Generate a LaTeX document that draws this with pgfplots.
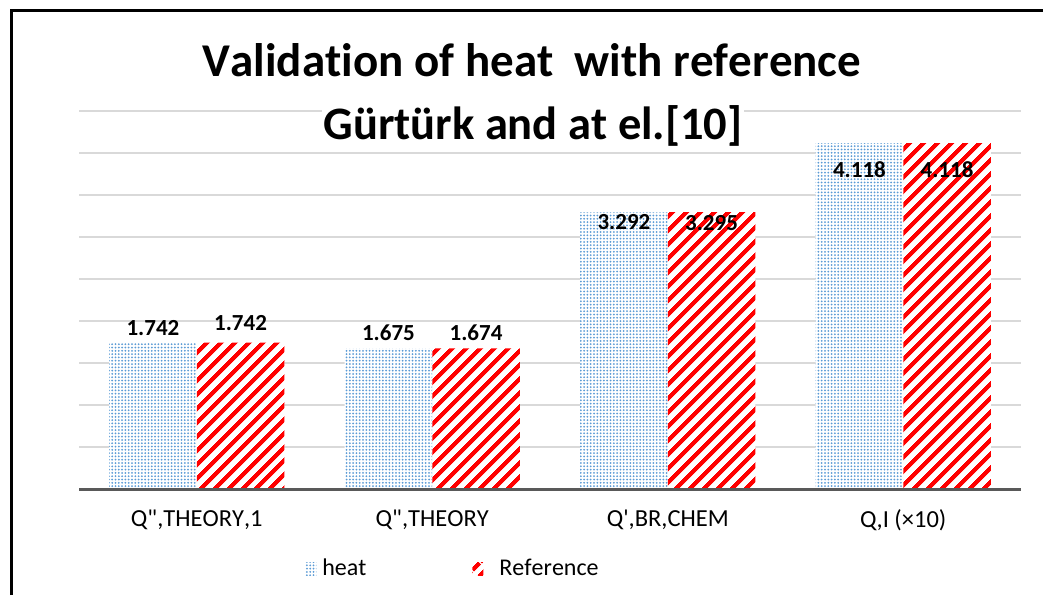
\documentclass[border=0pt]{standalone}
\usepackage{fontspec}
\setmainfont{Carlito}[Ligatures={TeXOff,NoCommon},Kerning=Off]
\usepackage{pgfplots}
\pgfplotsset{compat=1.18}
\usetikzlibrary{patterns.meta}
\definecolor{heatblue}{HTML}{5B9BD5}
\definecolor{refred}{HTML}{FF0000}
\definecolor{gridgray}{HTML}{D9D9D9}
\definecolor{axisgray}{HTML}{595959}
\begin{document}
\begin{tikzpicture}[x=1pt,y=1pt]
\path[use as bounding box] (0,0) rectangle (1043,595);
\begin{axis}[
  at={(79pt,106pt)}, anchor=south west,
  scale only axis, width=942pt, height=378pt,
  xmin=-0.5, xmax=3.5, ymin=0, ymax=4.5,
  ytick={0,0.5,...,4.5}, yticklabels={},
  ymajorgrids, grid style={draw=gridgray, line width=1.3pt},
  axis line style={draw=none}, tick style={draw=none},
  xtick={0,1,2,3},
  xticklabels={{Q",THEORY,1},{Q",THEORY},{Q',BR,CHEM},{Q,I (×10)}},
  xticklabel style={font=\fontsize{24.5}{28}\selectfont, yshift=-17pt},
  /pgf/number format/assume math mode=true,
  clip=false,
  legend columns=2,
  legend style={at={(0.397,-0.209)}, anchor=center, draw=none, fill=none,
    font=\fontsize{24}{28}\selectfont,
    /tikz/every odd column/.append style={column sep=4pt},
    /tikz/every even column/.append style={column sep=104pt}},
  legend image code/.code={\path[#1] (0pt,-7pt) rectangle (11pt,6pt);},
]
\addplot[ybar, bar width=0.372, bar shift=-0.186, draw=none, fill=white,
  postaction={pattern={Dots[radius=1pt,distance=3.3pt]}, pattern color=heatblue}]
  coordinates {(0,1.742) (1,1.675) (2,3.292) (3,4.118)};
\addlegendentry{heat}
\addplot[ybar, bar width=0.372, bar shift=0.186, draw=none, fill=white,
  postaction={pattern={Lines[angle=45,distance=10.5pt,line width=4.5pt]}, pattern color=refred}]
  coordinates {(0,1.742) (1,1.674) (2,3.295) (3,4.118)};
\addlegendentry{\hspace{10pt}Reference}
\addplot[forget plot, draw=none, mark=none, point meta=explicit,
  nodes near coords={\pgfmathprintnumber[fixed,fixed zerofill,precision=3]{\pgfplotspointmeta}},
  nodes near coords style={anchor=center, font=\bfseries\fontsize{23}{26}\selectfont}]
  table[x=x,y=ly,meta=v] {
x ly v
-0.186 1.917 1.742
0.814 1.857 1.675
1.814 3.179 3.292
2.814 3.798 4.118
0.186 1.976 1.742
1.186 1.857 1.674
2.186 3.167 3.295
3.186 3.798 4.118
};
\draw[axisgray, line width=3pt] (rel axis cs:0,0) -- (rel axis cs:1,0);
\end{axis}
\node[anchor=base, font=\bfseries\fontsize{47}{56}\selectfont, inner sep=0pt] at (532,518) {Validation of heat\ \ with reference};
\node[anchor=base, font=\bfseries\fontsize{46.5}{55}\selectfont, inner sep=1pt, fill=white] at (533,455) {Gürtürk and at el.[10]};
\draw[black, line width=3pt] (11,0) -- (11,584.5) -- (1043,584.5);
\end{tikzpicture}
\end{document}
